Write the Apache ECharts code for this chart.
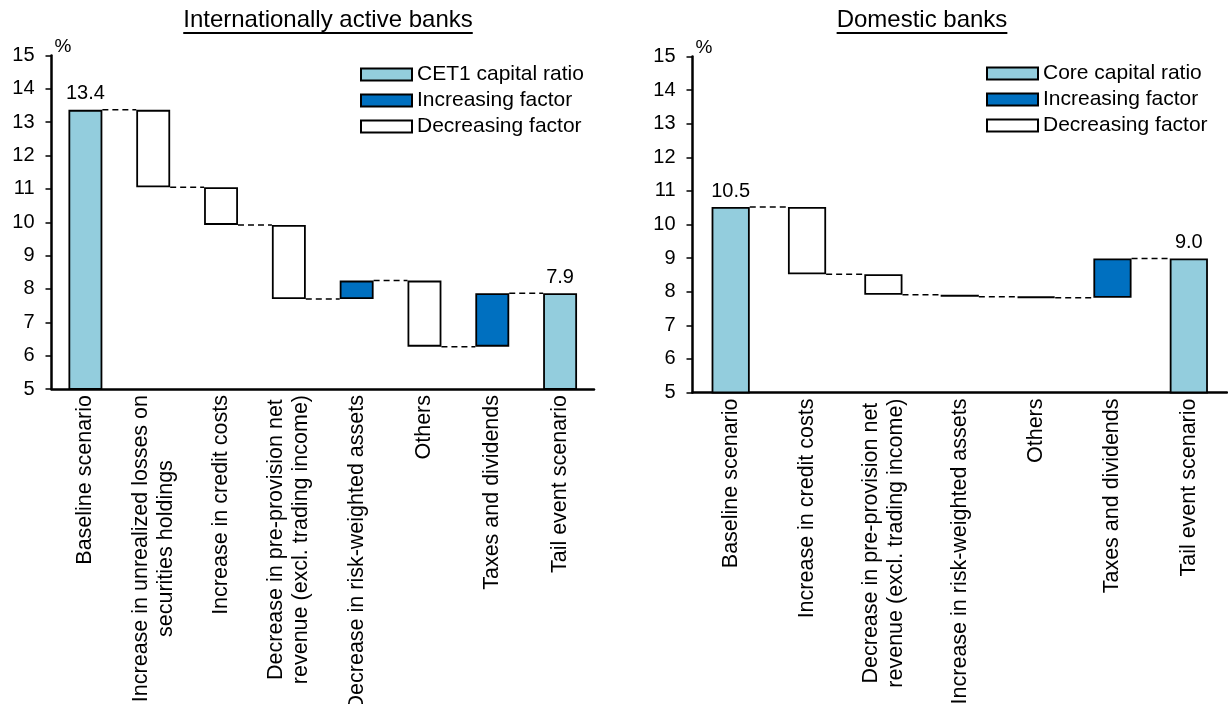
<!DOCTYPE html>
<html><head><meta charset="utf-8">
<script src="https://cdn.jsdelivr.net/npm/echarts@6/dist/echarts.min.js"></script>
<style>html,body{margin:0;padding:0;background:#fff}#c{width:1228px;height:704px}</style>
</head><body><div id="c"></div>
<script>
// ---- data ----
const intlCategories = ['Baseline scenario', 'Increase in unrealized losses on\nsecurities holdings', 'Increase in credit costs', 'Decrease in pre-provision net\nrevenue (excl. trading income)', 'Decrease in risk-weighted assets', 'Others', 'Taxes and dividends', 'Tail event scenario'];
const intlStart = 13.37;
const intlChanges = [-2.32, -1.13, -2.22, 0.55, -1.98, 1.60];
const intlEnd = 7.87;

const domCategories = ['Baseline scenario', 'Increase in credit costs', 'Decrease in pre-provision net\nrevenue (excl. trading income)', 'Increase in risk-weighted assets', 'Others', 'Taxes and dividends', 'Tail event scenario'];
const domStart = 10.52;
const domChanges = [-2.00, -0.61, -0.06, -0.03, 1.17];
const domEnd = 8.99;

const yMin = 5, yMax = 15, yInterval = 1;
const panelTitles = ['Internationally active banks', 'Domestic banks'];
const intlLegend = ['CET1 capital ratio', 'Increasing factor', 'Decreasing factor'];
const domLegend = ['Core capital ratio', 'Increasing factor', 'Decreasing factor'];

// ---- build ----
const ff = "'Liberation Sans', Arial, sans-serif";
const LIGHT = '#93CDDD', DARK = '#0070C0';

function build(start, changes, end) {
  const helper = ['-'], total = [start], inc = ['-'], dec = ['-'], links = [];
  let level = start;
  links.push([0, level]);
  changes.forEach((d, k) => {
    const next = level + d;
    helper.push(Math.min(level, next));
    total.push('-');
    if (d >= 0) { inc.push(d); dec.push('-'); } else { inc.push('-'); dec.push(-d); }
    level = next;
    links.push([k + 1, level]);
  });
  helper.push('-'); total.push(end); inc.push('-'); dec.push('-');
  return { helper, total, inc, dec, links };
}

const panels = [
  { cats: intlCategories, d: build(intlStart, intlChanges, intlEnd), legend: intlLegend },
  { cats: domCategories, d: build(domStart, domChanges, domEnd), legend: domLegend }
];

function textW(t, size) {
  const c = document.createElement('canvas').getContext('2d');
  c.font = size + 'px ' + ff;
  return c.measureText(t).width;
}

const grids = [
  { left: 51.5, right: 634, top: 55.5, bottom: 315, containLabel: false, outerBoundsMode: 'none' },
  { left: 692.5, right: 1, top: 56.5, bottom: 311.5, containLabel: false, outerBoundsMode: 'none' }
];

const xAxes = [], yAxes = [], series = [];
panels.forEach((p, i) => {
  xAxes.push({
    type: 'category', gridIndex: i, data: p.cats,
    axisLine: { lineStyle: { color: '#000', width: 2.5 } },
    axisTick: { length: 6, lineStyle: { color: '#000', width: 1.5 } },
    axisLabel: {
      rotate: 90, interval: 0, margin: 6, color: '#000', fontSize: 21.5, fontFamily: ff, lineHeight: 25,
      hideOverlap: false,
      formatter: v => v.split('\n').map(s => '{c|' + s + '}').join('\n'),
      rich: { c: { align: 'center', fontSize: 21.5, lineHeight: 25, fontFamily: ff, color: '#000' } }
    }
  });
  yAxes.push({
    type: 'value', gridIndex: i, min: yMin, max: yMax, interval: yInterval,
    axisLine: { show: true, lineStyle: { color: '#000', width: 2.5 } },
    axisTick: { show: true, length: 6, lineStyle: { color: '#000', width: 1.5 } },
    splitLine: { show: false },
    axisLabel: { fontSize: 20, color: '#000', margin: 17, fontFamily: ff },
    name: '%', nameLocation: 'end', nameGap: 9,
    nameTextStyle: { fontSize: 19, color: '#000', align: 'left', verticalAlign: 'middle', padding: [0, 0, 0, 3], fontFamily: ff }
  });
  const common = { type: 'bar', xAxisIndex: i, yAxisIndex: i, stack: 'w' + i, barWidth: '50%' };
  series.push(Object.assign({}, common, {
    name: 'helper' + i, data: p.d.helper, silent: true,
    itemStyle: { color: 'rgba(0,0,0,0)', borderWidth: 0 }
  }));
  series.push(Object.assign({}, common, {
    name: p.legend[0], data: p.d.total,
    itemStyle: { color: LIGHT, borderColor: '#000', borderWidth: 1.8 },
    label: { show: true, position: 'top', distance: 6, fontSize: 20, color: '#000', fontFamily: ff,
      formatter: q => Number(q.value).toFixed(1) }
  }));
  series.push(Object.assign({}, common, {
    name: p.legend[1], data: p.d.inc,
    itemStyle: { color: DARK, borderColor: '#000', borderWidth: 1.8 }
  }));
  series.push(Object.assign({}, common, {
    name: p.legend[2], data: p.d.dec,
    itemStyle: { color: '#fff', borderColor: '#000', borderWidth: 1.8 }
  }));
  series.push({
    type: 'custom', xAxisIndex: i, yAxisIndex: i, silent: true, z: 1,
    data: p.d.links, encode: { x: 0, y: 1 },
    renderItem: (params, api) => {
      const k = api.value(0), lv = api.value(1);
      const a = api.coord([k, lv]), b = api.coord([k + 1, lv]);
      const bw = api.size([1, 0])[0] * 0.5;
      return { type: 'line', shape: { x1: a[0] + bw / 2, y1: a[1], x2: b[0] - bw / 2, y2: b[1] },
        style: { stroke: '#000', lineWidth: 1.5, lineDash: [6, 4] } };
    }
  });
});

const titleCenters = [328, 922];
const titleSize = 24;
const graphic = [];
panelTitles.forEach((t, i) => {
  const w = textW(t, titleSize);
  graphic.push({ type: 'text', x: titleCenters[i], y: 20,
    style: { text: t, font: titleSize + 'px ' + ff, fill: '#000', align: 'center', verticalAlign: 'middle', textAlign: 'center', textVerticalAlign: 'middle' } });
  graphic.push({ type: 'line', shape: { x1: titleCenters[i] - w / 2, y1: 33, x2: titleCenters[i] + w / 2, y2: 33 },
    style: { stroke: '#000', lineWidth: 1.8 } });
});

const legendCommon = { orient: 'vertical', icon: 'rect', itemWidth: 51, itemHeight: 12, itemGap: 5, selectedMode: false,
  textStyle: { fontSize: 21, color: '#000', fontFamily: ff } };

const chart = echarts.init(document.getElementById('c'), null, { renderer: 'canvas' });
chart.setOption({
  animation: false,
  backgroundColor: '#fff',
  textStyle: { fontFamily: ff },
  grid: grids,
  xAxis: xAxes,
  yAxis: yAxes,
  legend: [
    Object.assign({}, legendCommon, { data: intlLegend, left: 355, top: 59 }),
    Object.assign({}, legendCommon, { data: domLegend, left: 981, top: 58 })
  ],
  graphic: graphic,
  series: series
});
</script></body></html>
